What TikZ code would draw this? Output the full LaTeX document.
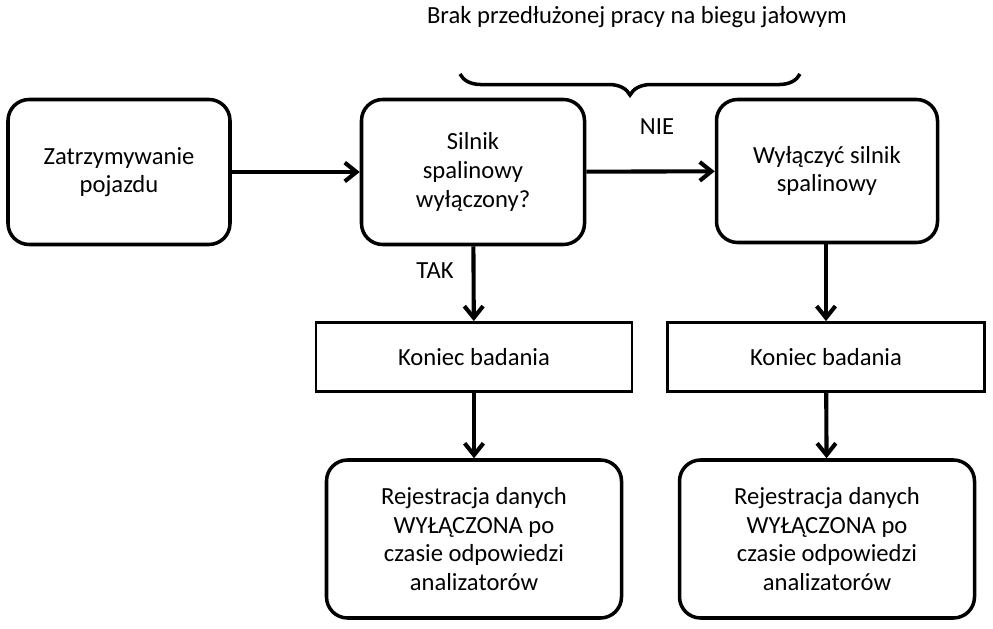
\documentclass[tikz,border=0pt]{standalone}
\usepackage{fontspec}
\setmainfont{Carlito}
\usetikzlibrary{arrows.meta,decorations.pathreplacing}
\tikzset{
  blok/.style={draw,line width=3pt,rounded corners=18pt,align=center,font=\fontsize{21}{24.5}\selectfont},
  prost/.style={draw,line width=2.4pt,align=center,font=\fontsize{21}{24.5}\selectfont},
  strz/.style={line width=3.5pt,-{Straight Barb[length=10pt,width=16pt]}},
  opis/.style={font=\fontsize{21}{24.5}\selectfont}
}
\begin{document}
\begin{tikzpicture}[x=0.03cm,y=-0.03cm]
  \useasboundingbox (0,0) rectangle (993,629);
  % gorny rzad
  \node[blok,minimum width=222*0.03cm,minimum height=145*0.03cm] (stop) at (119,172) {Zatrzymywanie\\pojazdu};
  \node[blok,minimum width=223*0.03cm,minimum height=145*0.03cm] (silnik) at (473,172) {Silnik\\spalinowy\\wyłączony?};
  \node[blok,minimum width=221*0.03cm,minimum height=143*0.03cm] (wylacz) at (827,171) {Wyłączyć silnik\\spalinowy};
  % koniec badania
  \node[prost,minimum width=316*0.03cm,minimum height=69*0.03cm] (kon1) at (474,357) {Koniec badania};
  \node[prost,minimum width=317*0.03cm,minimum height=69*0.03cm] (kon2) at (826,357) {Koniec badania};
  % rejestracja
  \node[blok,minimum width=295*0.03cm,minimum height=158*0.03cm] (rej1) at (474,539) {Rejestracja danych\\WYŁĄCZONA po\\czasie odpowiedzi\\analizatorów};
  \node[blok,minimum width=295*0.03cm,minimum height=158*0.03cm] (rej2) at (827,539) {Rejestracja danych\\WYŁĄCZONA po\\czasie odpowiedzi\\analizatorów};
  % strzalki
  \draw[strz] (stop) -- (silnik);
  \draw[strz] (silnik) -- (wylacz);
  \draw[strz] (silnik) -- (kon1);
  \draw[strz] (wylacz.south -| kon2) -- (kon2);
  \draw[strz] (kon1) -- (rej1);
  \draw[strz] (kon2) -- (rej2);
  \node[opis] (nie) at (657,127) {NIE};
  \node[opis] (tak) at (435,271) {TAK};
  % klamra
  \coordinate (kl1) at (460,74);
  \coordinate (kl2) at (800,74);
  \draw[line width=3pt,decorate,decoration={brace,amplitude=18pt}] (kl2) -- (kl1);
  \node[opis] (brak) at (637,17) {Brak przedłużonej pracy na biegu jałowym};
\end{tikzpicture}
\end{document}
